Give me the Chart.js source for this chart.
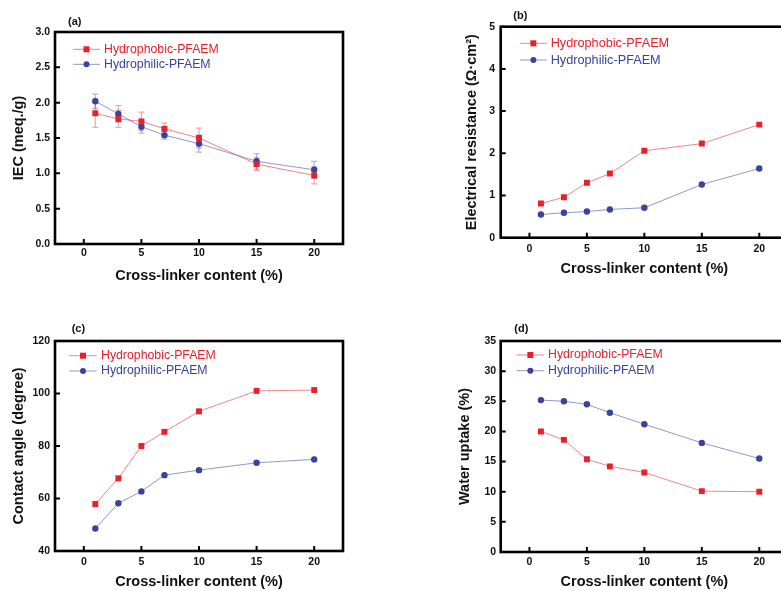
<!DOCTYPE html>
<html lang="en">
<head>
    <meta charset="UTF-8">
    <title>PFAEM vs cross-linker content</title>
    <script src="https://cdn.jsdelivr.net/npm/chart.js"></script>
    <style>
        html, body { margin: 0; padding: 0; background: #fff; width: 781px; height: 591px; overflow: hidden; }
        canvas { position: absolute; }
    </style>
</head>
<body>
    <canvas id="chartA" width="360" height="290" style="left:0;top:0"></canvas>
    <canvas id="chartB" width="400" height="290" style="left:400px;top:0"></canvas>
    <canvas id="chartC" width="360" height="301" style="left:0;top:290px"></canvas>
    <canvas id="chartD" width="400" height="301" style="left:400px;top:290px"></canvas>

    <script>
        // data
        const crossLinker = [1, 3, 5, 7, 10, 15, 20];
        const xTickValues = [0, 5, 10, 15, 20];
        const seriesNames = ['Hydrophobic-PFAEM', 'Hydrophilic-PFAEM'];

        const iecHydrophobic = [1.85, 1.77, 1.735, 1.63, 1.50, 1.13, 0.97];
        const iecHydrophobicErr = [0.20, 0.12, 0.13, 0.08, 0.14, 0.09, 0.12];
        const iecHydrophilic = [2.02, 1.84, 1.66, 1.54, 1.42, 1.17, 1.05];
        const iecHydrophilicErr = [0.10, 0.12, 0.09, 0.055, 0.12, 0.11, 0.12];
        const iecTicks = [0, 0.5, 1.0, 1.5, 2.0, 2.5, 3.0];

        const resHydrophobic = [0.81, 0.96, 1.30, 1.52, 2.06, 2.23, 2.68];
        const resHydrophilic = [0.55, 0.59, 0.62, 0.67, 0.71, 1.26, 1.64];
        const resTicks = [0, 1, 2, 3, 4, 5];

        const angleHydrophobic = [57.9, 67.7, 80.0, 85.4, 93.2, 101.0, 101.3];
        const angleHydrophilic = [48.6, 58.2, 62.7, 68.9, 70.8, 73.6, 74.9];
        const angleTicks = [40, 60, 80, 100, 120];

        const uptakeHydrophobic = [20.0, 18.6, 15.4, 14.2, 13.2, 10.1, 10.0];
        const uptakeHydrophilic = [25.2, 25.0, 24.5, 23.1, 21.2, 18.1, 15.5];
        const uptakeTicks = [0, 5, 10, 15, 20, 25, 30, 35];

        const FONT = '"Liberation Sans", Arial, sans-serif';
        const red = 'rgb(232,32,42)';
        const redLine = 'rgba(232,32,42,0.55)';
        const redErr = 'rgba(232,32,42,0.4)';
        const blue = 'rgb(58,66,160)';
        const blueLine = 'rgba(58,66,160,0.55)';
        const blueErr = 'rgba(58,66,160,0.4)';

        // frame, inward ticks, error bars, legend and panel letter
        const panelPlugin = {
            id: 'panel',
            beforeDatasetsDraw(chart) {
                const ctx = chart.ctx, ys = chart.scales.y;
                chart.data.datasets.forEach((ds, i) => {
                    if (!ds.errors) return;
                    const meta = chart.getDatasetMeta(i);
                    ctx.save();
                    ctx.strokeStyle = ds.errColor;
                    ctx.lineWidth = 1.2;
                    meta.data.forEach((pt, j) => {
                        const v = ds.data[j].y, e = ds.errors[j];
                        const y1 = ys.getPixelForValue(v + e), y2 = ys.getPixelForValue(v - e);
                        ctx.beginPath();
                        ctx.moveTo(pt.x, y1); ctx.lineTo(pt.x, y2);
                        ctx.moveTo(pt.x - 3, y1); ctx.lineTo(pt.x + 3, y1);
                        ctx.moveTo(pt.x - 3, y2); ctx.lineTo(pt.x + 3, y2);
                        ctx.stroke();
                    });
                    ctx.restore();
                });
            },
            afterDraw(chart) {
                const o = chart.options.plugins.panel;
                const ctx = chart.ctx, a = chart.chartArea;
                const xs = chart.scales.x, ys = chart.scales.y;
                ctx.save();
                ctx.strokeStyle = '#000';
                ctx.lineWidth = 2;
                ctx.beginPath();
                xs.ticks.forEach(t => {
                    const px = xs.getPixelForValue(t.value);
                    ctx.moveTo(px, a.bottom); ctx.lineTo(px, a.bottom - 5);
                });
                ys.ticks.forEach(t => {
                    const py = ys.getPixelForValue(t.value);
                    ctx.moveTo(a.left, py); ctx.lineTo(a.left + 5, py);
                });
                ctx.stroke();
                ctx.lineWidth = 2.6;
                ctx.strokeRect(a.left, a.top, a.right - a.left, a.bottom - a.top);

                // legend
                const lg = o.legend;
                chart.data.datasets.forEach((ds, i) => {
                    const y = a.top + lg.y + i * lg.gap;
                    const x0 = a.left + lg.x0, x1 = a.left + lg.x1;
                    ctx.strokeStyle = ds.borderColor;
                    ctx.lineWidth = 1;
                    ctx.beginPath(); ctx.moveTo(x0, y); ctx.lineTo(x1, y); ctx.stroke();
                    const mx = (x0 + x1) / 2;
                    ctx.fillStyle = ds.pointBackgroundColor;
                    if (ds.pointStyle === 'rect') {
                        ctx.fillRect(mx - 3, y - 3, 6, 6);
                    } else {
                        ctx.beginPath(); ctx.arc(mx, y, 3, 0, Math.PI * 2); ctx.fill();
                    }
                    ctx.font = lg.size + 'px ' + FONT;
                    ctx.textBaseline = 'middle';
                    ctx.textAlign = 'left';
                    ctx.fillText(ds.label, a.left + lg.tx, y);
                });

                // panel letter
                ctx.fillStyle = '#111';
                ctx.font = 'bold 11px ' + FONT;
                ctx.textBaseline = 'middle';
                ctx.fillText(o.letter, o.letterX, o.letterY);
                ctx.restore();
            }
        };

        function toPoints(values) {
            return crossLinker.map((x, i) => ({ x: x, y: values[i] }));
        }

        function makePanel(id, p) {
            return new Chart(document.getElementById(id), {
                type: 'line',
                data: {
                    datasets: [{
                        label: seriesNames[0],
                        data: toPoints(p.red),
                        errors: p.redErr,
                        errColor: redErr,
                        borderColor: redLine,
                        borderWidth: 1,
                        pointStyle: 'rect',
                        pointRadius: 4.2,
                        pointBorderWidth: 0,
                        pointBackgroundColor: red,
                        pointBorderColor: red
                    }, {
                        label: seriesNames[1],
                        data: toPoints(p.blue),
                        errors: p.blueErr,
                        errColor: blueErr,
                        borderColor: blueLine,
                        borderWidth: 1,
                        pointStyle: 'circle',
                        pointRadius: 3.2,
                        pointBorderWidth: 0,
                        pointBackgroundColor: blue,
                        pointBorderColor: blue
                    }]
                },
                options: {
                    responsive: false,
                    animation: false,
                    devicePixelRatio: 1,
                    layout: { padding: { top: p.padTop, right: p.padRight, left: 0, bottom: 0 } },
                    scales: {
                        x: {
                            type: 'linear',
                            min: -2.5,
                            max: 22.5,
                            afterBuildTicks: s => { s.ticks = xTickValues.map(v => ({ value: v })); },
                            afterFit: s => { s.height = p.xHeight; },
                            grid: { display: false, drawTicks: false },
                            border: { display: false },
                            ticks: {
                                autoSkip: false, maxRotation: 0, padding: p.xTickPad,
                                color: '#111', font: { family: FONT, size: 10.5, weight: 'bold' },
                                callback: v => String(v)
                            },
                            title: {
                                display: true, text: 'Cross-linker content (%)', color: '#111',
                                font: { family: FONT, size: 14.5, weight: 'bold' },
                                padding: { top: 0, bottom: p.xTitlePad }
                            }
                        },
                        y: {
                            min: p.ticks[0],
                            max: p.ticks[p.ticks.length - 1],
                            afterBuildTicks: s => { s.ticks = p.ticks.map(v => ({ value: v })); },
                            afterFit: s => { s.width = p.yWidth; },
                            grid: { display: false, drawTicks: false },
                            border: { display: false },
                            ticks: {
                                autoSkip: false, padding: p.yTickPad,
                                color: '#111', font: { family: FONT, size: 10.5, weight: 'bold' },
                                callback: v => p.decimals ? v.toFixed(p.decimals) : String(v)
                            },
                            title: {
                                display: true, text: p.yTitle, color: '#111',
                                font: { family: FONT, size: 14.5, weight: 'bold' },
                                padding: { top: p.yTitlePad, bottom: 0 }
                            }
                        }
                    },
                    plugins: {
                        legend: { display: false },
                        tooltip: { enabled: false },
                        panel: { legend: p.legend, letter: p.letter, letterX: p.letterX, letterY: p.letterY }
                    }
                },
                plugins: [panelPlugin]
            });
        }

        makePanel('chartA', {
            red: iecHydrophobic, blue: iecHydrophilic, redErr: iecHydrophobicErr, blueErr: iecHydrophilicErr,
            ticks: iecTicks, decimals: 1, yTitle: 'IEC (meq./g)',
            padTop: 32, padRight: 17, yWidth: 55, xHeight: 46,
            xTickPad: 3, yTickPad: 5, xTitlePad: 5, yTitlePad: 10,
            legend: { x0: 18, x1: 45, tx: 49, y: 17.3, gap: 15, size: 12.3 },
            letter: '(a)', letterX: 68, letterY: 21.7
        });

        makePanel('chartB', {
            red: resHydrophobic, blue: resHydrophilic,
            ticks: resTicks, decimals: 0, yTitle: 'Electrical resistance (\u03A9\u00B7cm\u00B2)',
            padTop: 26.7, padRight: 12, yWidth: 100.7, xHeight: 52.3,
            xTickPad: 5, yTickPad: 5.7, xTitlePad: 12, yTitlePad: 63,
            legend: { x0: 19.3, x1: 46, tx: 50, y: 16.6, gap: 16.7, size: 12.7 },
            letter: '(b)', letterX: 113.3, letterY: 15.7
        });

        makePanel('chartC', {
            red: angleHydrophobic, blue: angleHydrophilic,
            ticks: angleTicks, decimals: 0, yTitle: 'Contact angle (degree)',
            padTop: 51, padRight: 17, yWidth: 55, xHeight: 40,
            xTickPad: 5, yTickPad: 5, xTitlePad: 0, yTitlePad: 10,
            legend: { x0: 14.3, x1: 41.7, tx: 46, y: 14.7, gap: 15.3, size: 12.3 },
            letter: '(c)', letterX: 71.7, letterY: 39.3
        });

        makePanel('chartD', {
            red: uptakeHydrophobic, blue: uptakeHydrophilic,
            ticks: uptakeTicks, decimals: 0, yTitle: 'Water uptake (%)',
            padTop: 51, padRight: 12, yWidth: 100.7, xHeight: 39,
            xTickPad: 4, yTickPad: 4.5, xTitlePad: 0, yTitlePad: 56.3,
            legend: { x0: 16, x1: 43.3, tx: 47.3, y: 14, gap: 15.7, size: 12.3 },
            letter: '(d)', letterX: 114.3, letterY: 39
        });
    </script>
</body>
</html>
